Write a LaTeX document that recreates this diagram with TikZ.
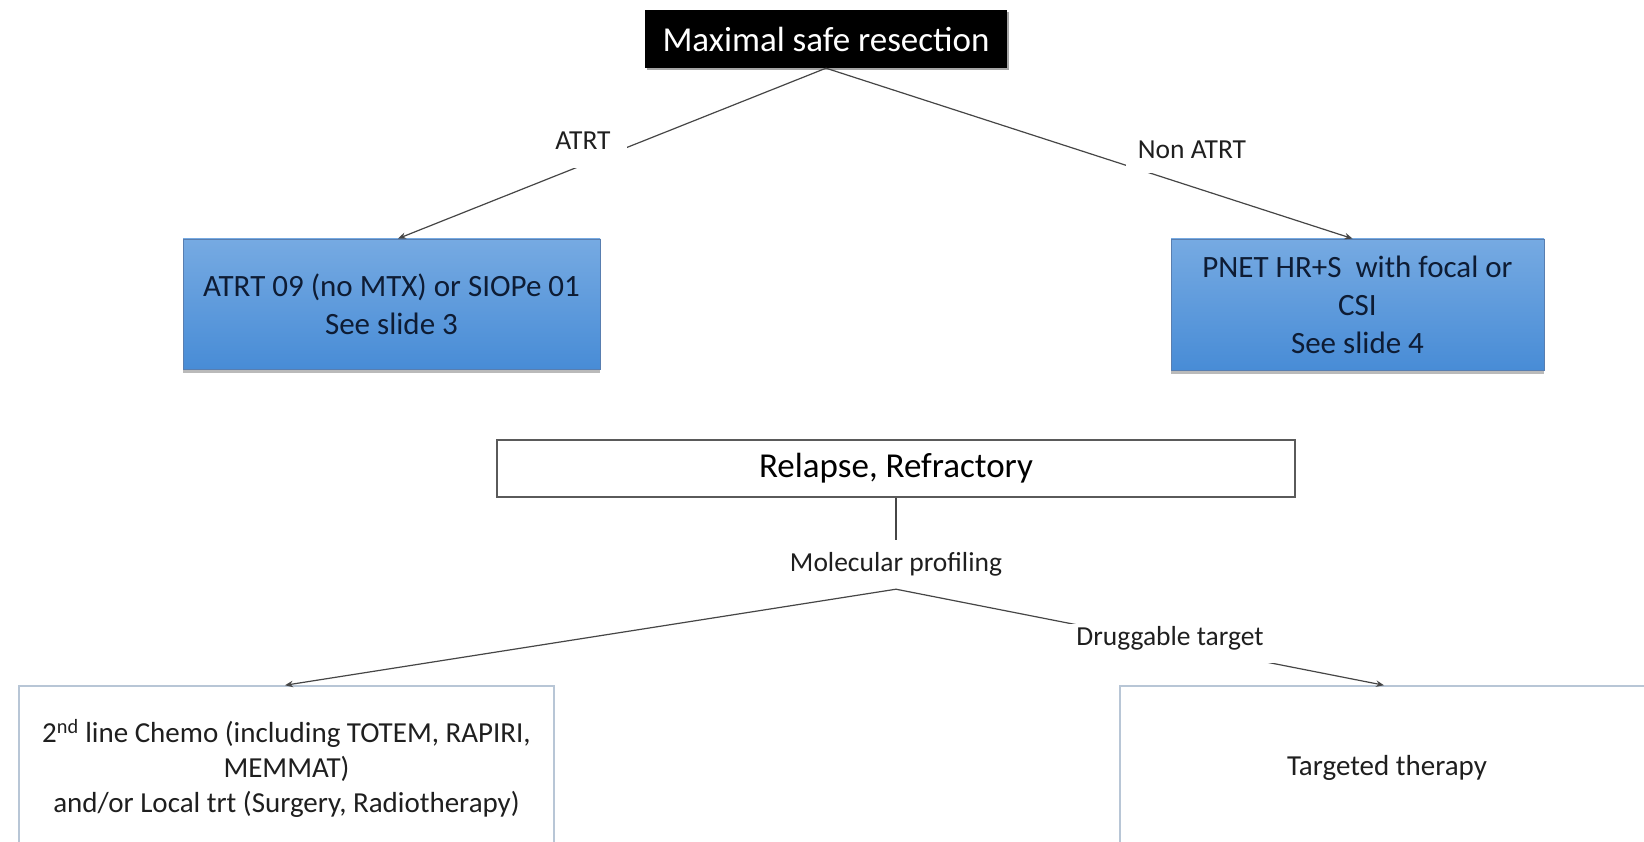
\documentclass[tikz,border=0pt]{standalone}
\usepackage{fontspec}
\setmainfont{Carlito}
\usetikzlibrary{arrows.meta,shadows}

\definecolor{linegray}{RGB}{70,70,70}
\definecolor{bluetop}{RGB}{118,170,226}
\definecolor{bluebot}{RGB}{72,140,214}
\definecolor{blueedge}{RGB}{88,126,176}
\definecolor{navytext}{RGB}{14,28,52}
\definecolor{paleedge}{RGB}{184,198,214}
\definecolor{boxedge}{RGB}{90,90,90}

\tikzset{
  topbox/.style={fill=black, text=white, inner sep=0pt,
    font=\fontsize{35}{40}\selectfont,
    drop shadow={shadow xshift=1.5pt, shadow yshift=-2.5pt, opacity=0.5, fill=black!70}},
  bluebox/.style={draw=blueedge, line width=0.8pt, top color=bluetop, bottom color=bluebot,
    text=navytext, align=center, inner sep=0pt,
    font=\fontsize{31}{38}\selectfont,
    drop shadow={shadow xshift=0pt, shadow yshift=-3.5pt, opacity=0.45, fill=black!60}},
  plainbox/.style={draw=boxedge, line width=1.4pt, fill=white, inner sep=0pt,
    font=\fontsize{35}{40}\selectfont},
  palebox/.style={draw=paleedge, line width=1.5pt, fill=white, align=center, inner sep=0pt,
    text=black!88, font=\fontsize{29}{35}\selectfont},
  conn/.style={draw=linegray, line width=1.2pt},
  arrowconn/.style={conn, -{Stealth[length=8pt,width=6.5pt]}},
  edgelabel/.style={fill=white, anchor=base, inner ysep=4pt, text=black!88,
    font=\fontsize{27.5}{32}\selectfont},
}

\begin{document}
\begin{tikzpicture}[x=1pt,y=-1pt]
  \useasboundingbox (0,0) rectangle (1644,842);
  \clip (0,0) rectangle (1644,842);
  \fill[white] (0,0) rectangle (1644,842);

  % first-line treatment
  \node[topbox, minimum width=362, minimum height=58] (top) at (826,39) {Maximal safe resection};
  \node[bluebox, minimum width=417, minimum height=130] (atrt) at (391.5,304)
    {ATRT 09 (no MTX) or SIOPe 01\\See slide 3};
  \node[bluebox, minimum width=373, minimum height=131] (pnet) at (1357.5,304.5)
    {PNET HR+S\ \ with focal or\\CSI\\See slide 4};

  % relapse branch
  \node[plainbox, minimum width=798, minimum height=57] (relapse) at (896,468.5) {Relapse, Refractory};
  \node[anchor=base, inner xsep=4pt, inner ysep=0pt, text height=31, text depth=18, text=black!88,
    font=\fontsize{27.5}{32}\selectfont] (mol) at (896,571) {Molecular profiling};
  \node[palebox, minimum width=535, minimum height=164] (chemo) at (286.5,768)
    {2\textsuperscript{nd} line Chemo (including TOTEM, RAPIRI,\\MEMMAT)\\and/or Local trt (Surgery, Radiotherapy)};
  \node[palebox, minimum width=534, minimum height=164] (target) at (1387,768) {Targeted therapy};

  % connectors
  \draw[arrowconn] (top.south) -- ([xshift=6.5pt]atrt.north);
  \draw[arrowconn] (top.south) -- ([xshift=-5pt]pnet.north);
  \draw[conn] (relapse.south) -- (mol.north);
  \draw[arrowconn] (mol.south) -- ([xshift=-1.5pt]chemo.north);
  \draw[arrowconn] (mol.south) -- ([xshift=-3pt]target.north);

  % connector labels
  \node[edgelabel, inner xsep=16pt, text height=17, text depth=14] (latrt) at (583,150) {ATRT};
  \node[edgelabel, inner xsep=12pt, text height=17, text depth=10] (lnon) at (1192,159) {Non ATRT};
  \node[edgelabel, inner xsep=14pt, text height=17, text depth=14] (ldrug) at (1170,645) {Druggable target};
\end{tikzpicture}
\end{document}
